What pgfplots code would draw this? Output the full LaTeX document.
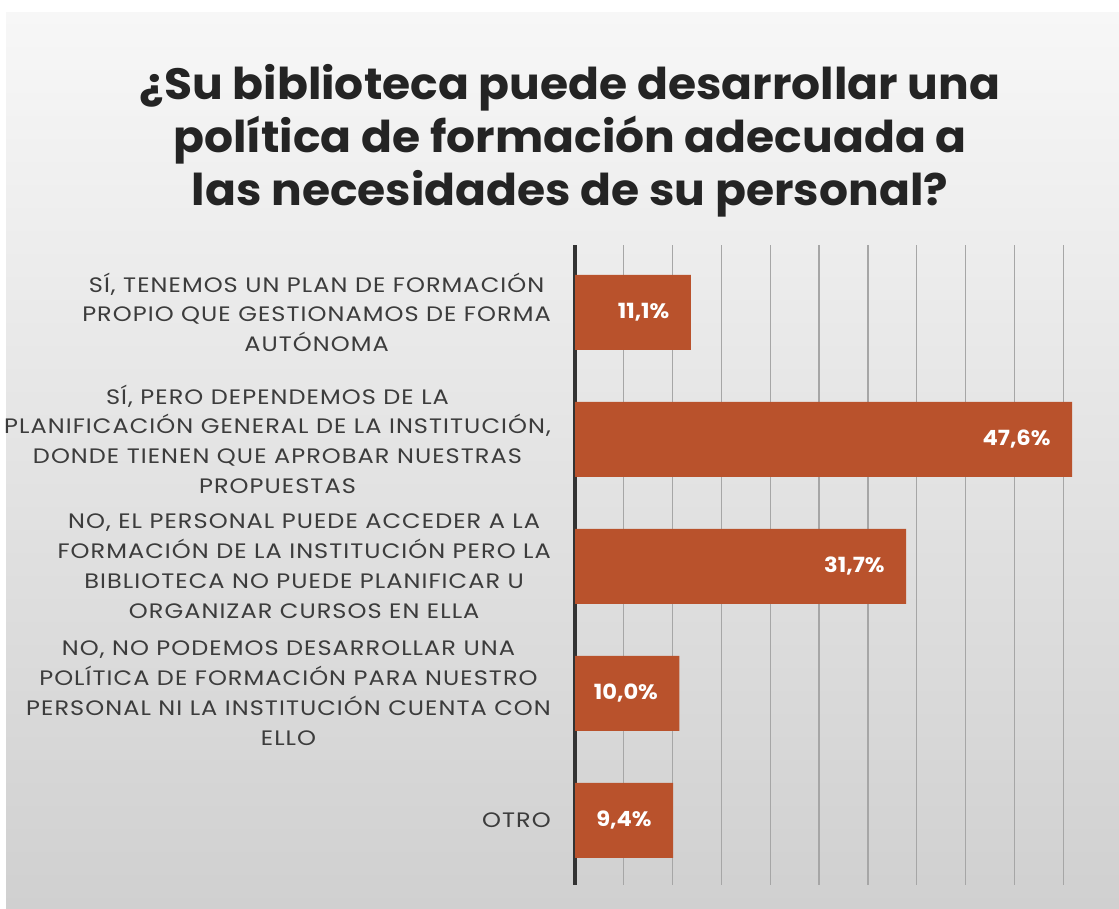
\documentclass[border=0pt]{standalone}
\usepackage{pgfplots}
\pgfplotsset{compat=1.18}
\usepackage{fontspec}
\setmainfont{Poppins}
\newfontfamily\titlefont{Poppins}[FakeStretch=1.04]
\newfontfamily\labelfont{Poppins}[FakeStretch=1.15, LetterSpace=5]
\newfontfamily\valfont{Poppins}[FakeStretch=1.08]
\definecolor{barc}{RGB}{185,82,44}
\definecolor{txt}{RGB}{60,60,60}
\definecolor{ttl}{RGB}{36,36,36}
\definecolor{bgtop}{RGB}{247,247,247}
\definecolor{bgbot}{RGB}{208,208,208}
\begin{document}
\begin{tikzpicture}
\useasboundingbox (0,0) rectangle (1119bp,-909bp);
\fill[white] (0,0) rectangle (1119bp,-909bp);
\shade[top color=bgtop, bottom color=bgbot] (6bp,-12bp) rectangle (1119bp,-909bp);
\node[font=\titlefont\fontsize{44}{53}\selectfont\bfseries, text=ttl, align=center] at (570bp,-141bp)
  {¿Su biblioteca puede desarrollar una\\política de formación adecuada a\\las necesidades de su personal?};
\begin{axis}[
  at={(575bp,-885bp)}, anchor=south west,
  scale only axis, width=543bp, height=640bp,
  xmin=0, xmax=52, ymin=-0.53, ymax=4.51, y dir=reverse,
  xbar, bar width=75bp, bar shift=0pt,
  axis line style={draw=none},
  xtick={4.675,9.35,14.025,18.7,23.375,28.05,32.725,37.4,42.075,46.75},
  xticklabels={}, major tick length=0,
  xmajorgrids, grid style={gray!70, line width=1.3bp},
  extra x ticks={0}, extra x tick labels={},
  extra x tick style={xmajorgrids=true, grid style={black!80, line width=3bp}},
  ytick={0,1,2,3,4},
  yticklabels={
    {SÍ, TENEMOS UN PLAN DE FORMACIÓN\\PROPIO QUE GESTIONAMOS DE FORMA\\AUTÓNOMA},
    {SÍ, PERO DEPENDEMOS DE LA\\PLANIFICACIÓN GENERAL DE LA INSTITUCIÓN,\\DONDE TIENEN QUE APROBAR NUESTRAS\\PROPUESTAS},
    {NO, EL PERSONAL PUEDE ACCEDER A LA\\FORMACIÓN DE LA INSTITUCIÓN PERO LA\\BIBLIOTECA NO PUEDE PLANIFICAR U\\ORGANIZAR CURSOS EN ELLA},
    {NO, NO PODEMOS DESARROLLAR UNA\\POLÍTICA DE FORMACIÓN PARA NUESTRO\\PERSONAL NI LA INSTITUCIÓN CUENTA CON\\ELLO},
    {OTRO}},
  yticklabel style={align=center, font=\labelfont\fontsize{21}{30}\selectfont, text=txt, inner sep=0pt, xshift=-24bp},
  nodes near coords, point meta=explicit symbolic,
  every node near coord/.append style={anchor=east, xshift=-18bp, text=white, font=\valfont\fontsize{21}{24}\selectfont\bfseries},
]
\addplot[fill=barc, draw=none] coordinates {
  (11.1,0) [11,1\%]
  (47.6,1) [47,6\%]
  (31.7,2) [31,7\%]
  (10.0,3) [10,0\%]
  (9.4,4) [9,4\%]
};
\end{axis}
\end{tikzpicture}
\end{document}
